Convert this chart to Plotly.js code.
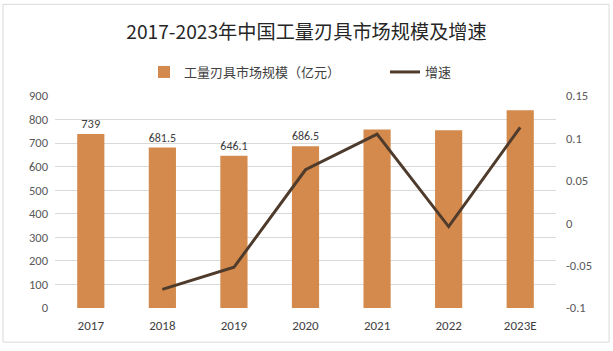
<!DOCTYPE html>
<html><head><meta charset="utf-8">
<script src="https://cdn.plot.ly/plotly-3.0.1.min.js"></script>
<style>html,body{margin:0;padding:0;background:#fff;}#chart{width:613px;height:351px;}</style>
</head><body><div id="chart"></div>
<script>
const years = ['2017','2018','2019','2020','2021','2022','2023E'];
const marketSize = [739, 681.5, 646.1, 686.5, 758, 755, 840];
const sizeLabels = ['739','681.5','646.1','686.5','','',''];
const growth = [null, -0.078, -0.052, 0.063, 0.105, -0.004, 0.113];
const leftTicks = [0,100,200,300,400,500,600,700,800,900];
const rightTicks = [-0.1,-0.05,0,0.05,0.1,0.15];
const rightTickText = ['-0.1','-0.05','0','0.05','0.1','0.15'];

const font = "Calibri, Carlito, 'Noto Sans CJK SC', sans-serif";
const legFont = {size:13, color:'#404040', family:"'Noto Sans CJK SC', sans-serif"};
const traces = [
  {type:'bar', x:years, y:marketSize, name:'工量刃具市场规模（亿元）', legend:'legend',
   marker:{color:'#D38A4C'}, text:sizeLabels, textposition:'outside', cliponaxis:false,
   textfont:{size:12.5,color:'#404040',family:font}, hoverinfo:'x+y'},
  {type:'scatter', mode:'lines', x:years, y:growth, name:'增速', yaxis:'y2', legend:'legend2',
   line:{color:'#4E3B2C', width:3}, connectgaps:false}
];
const layout = {
  width:613, height:351,
  margin:{l:55, r:57, t:95.7, b:43.3},
  paper_bgcolor:'#fff', plot_bgcolor:'#fff',
  font:{family:font, color:'#595959', size:12},
  title:{text:'2017-2023年中国工量刃具市场规模及增速', x:0.5, xanchor:'center', y:0.909, yanchor:'middle',
         font:{size:19.2, color:'#262626', family:"'Noto Sans CJK SC', sans-serif"}},
  bargap:0.62,
  showlegend:true,
  legend:{orientation:'h', xref:'container', yref:'container', x:144/613, xanchor:'left', y:1-72/351, yanchor:'middle',
          font:legFont, itemwidth:30},
  legend2:{orientation:'h', xref:'container', yref:'container', x:385/613, xanchor:'left', y:1-72/351, yanchor:'middle',
          font:legFont, itemwidth:30},
  xaxis:{type:'category', showgrid:false, zeroline:false, showline:false, ticks:'', ticklabelstandoff:8,
         tickfont:{size:13, color:'#404040'}},
  yaxis:{range:[0,900], tickvals:leftTicks, showgrid:true, gridcolor:'#D9D9D9', gridwidth:1, ticklabelstandoff:6,
         zeroline:false, showline:false, ticks:'', tickfont:{size:12.5, color:'#595959'}},
  yaxis2:{range:[-0.1,0.15], overlaying:'y', side:'right', tickvals:rightTicks, ticktext:rightTickText, ticklabelstandoff:9,
          showgrid:false, zeroline:false, showline:false, ticks:'', tickfont:{size:12.5, color:'#595959'}},
  shapes:[{type:'rect', xref:'paper', yref:'paper', x0:-0.1038, x1:1.106, y0:-0.161, y1:1.4325,
           line:{color:'#D9D9D9', width:1}}]
};
Plotly.newPlot('chart', traces, layout, {displayModeBar:false, staticPlot:true});
</script></body></html>
